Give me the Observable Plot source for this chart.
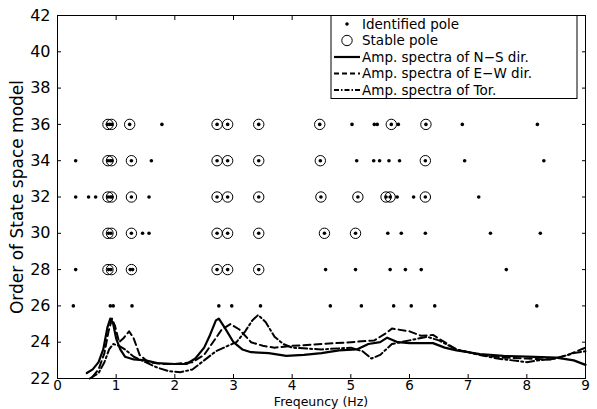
<!DOCTYPE html>
<html><head><meta charset="utf-8">
<script src="https://cdn.jsdelivr.net/npm/d3@7"></script>
<script src="https://cdn.jsdelivr.net/npm/@observablehq/plot@0.6"></script>
<style>
html,body{margin:0;padding:0;background:#fff;}
#chart{position:relative;width:597px;height:409px;}
svg{font-family:"DejaVu Sans",sans-serif;}
</style></head>
<body><div id="chart"></div>
<script>
const xTicks = [0,1,2,3,4,5,6,7,8,9];
const yTicks = [22,24,26,28,30,32,34,36,38,40,42];

// identified poles (frequency, Hz) per model order
const idPoles26 = [0.27,0.90,0.95,1.27,2.75,2.97,3.46,4.65,5.18,5.73,6.03,6.43,8.17];
const idPoles28 = [0.31,0.87,0.91,1.24,1.28,2.72,2.90,3.43,4.57,5.08,5.67,5.93,6.20,7.65];
const idPoles30 = [0.87,0.91,1.26,1.45,1.56,2.72,2.90,3.43,4.55,5.08,5.63,5.86,6.27,7.38,8.23];
const idPoles32 = [0.31,0.53,0.65,0.86,0.90,0.93,1.26,1.56,2.72,2.90,3.43,4.49,5.12,5.60,5.67,5.79,6.07,6.27,7.18];
const idPoles34 = [0.31,0.86,0.90,0.93,1.26,1.60,2.72,2.90,3.43,4.48,5.10,5.39,5.49,5.65,5.83,6.27,6.94,8.29];
const idPoles36 = [0.85,0.89,0.93,1.23,1.78,2.72,2.90,3.43,4.47,5.02,5.40,5.45,5.69,5.81,6.28,6.90,8.18];

// stable poles
const stPoles28 = [0.86,0.92,1.26,2.72,2.90,3.43];
const stPoles30 = [0.86,0.92,1.26,2.72,2.90,3.43,4.55,5.08];
const stPoles32 = [0.86,0.92,1.26,2.72,2.90,3.43,4.49,5.12,5.60,5.67,6.27];
const stPoles34 = [0.86,0.92,1.26,2.72,2.90,3.43,4.48,6.27];
const stPoles36 = [0.86,0.92,1.23,2.72,2.90,3.43,4.47,5.69,6.28];

// amplitude spectra [freq, scaled amplitude]
const nsSpectrum = [[0.5,22.3],[0.6,22.5],[0.7,22.9],[0.78,23.6],[0.85,24.8],[0.9,25.3],[0.95,25.0],[1.0,24.2],[1.07,23.6],[1.15,23.2],[1.3,23.05],[1.5,23.0],[1.7,22.85],[2.0,22.8],[2.2,22.8],[2.35,23.1],[2.5,23.7],[2.6,24.4],[2.7,25.2],[2.75,25.3],[2.85,24.8],[3.0,24.0],[3.15,23.6],[3.3,23.45],[3.6,23.4],[3.9,23.25],[4.2,23.3],[4.5,23.4],[4.8,23.55],[5.1,23.6],[5.3,23.9],[5.5,24.0],[5.62,24.25],[5.8,24.0],[6.0,23.95],[6.4,23.95],[6.6,23.7],[6.8,23.55],[7.2,23.35],[7.6,23.25],[8.0,23.2],[8.5,23.15],[8.8,23.0],[9.0,22.75]];
const ewSpectrum = [[0.6,22.1],[0.7,22.5],[0.8,23.4],[0.87,24.6],[0.93,25.3],[0.98,24.9],[1.05,24.0],[1.12,24.2],[1.22,24.6],[1.3,24.2],[1.4,23.3],[1.55,22.9],[1.8,22.8],[2.0,22.8],[2.3,22.9],[2.5,23.3],[2.65,24.0],[2.8,24.7],[2.95,25.0],[3.1,24.7],[3.3,24.0],[3.5,23.8],[3.7,23.7],[4.0,23.8],[4.5,23.9],[5.0,24.0],[5.4,24.1],[5.6,24.5],[5.7,24.75],[6.0,24.6],[6.2,24.35],[6.4,24.4],[6.6,24.0],[6.8,23.6],[7.2,23.3],[7.6,23.15],[8.0,23.1],[8.4,23.05],[8.7,23.3],[9.0,23.7]];
const torSpectrum = [[0.55,22.0],[0.7,22.3],[0.8,22.9],[0.88,23.6],[0.95,23.9],[1.05,23.8],[1.15,23.6],[1.3,23.2],[1.5,22.9],[1.7,22.6],[1.9,22.4],[2.1,22.35],[2.3,22.5],[2.5,23.0],[2.7,23.5],[2.9,23.8],[3.05,24.0],[3.2,24.6],[3.32,25.2],[3.42,25.5],[3.55,25.1],[3.7,24.3],[3.85,23.9],[4.0,23.7],[4.5,23.6],[5.0,23.7],[5.2,23.5],[5.35,23.1],[5.5,23.3],[5.7,23.9],[6.0,24.1],[6.3,24.3],[6.5,24.1],[6.8,23.6],[7.2,23.3],[7.5,23.1],[8.0,22.9],[8.2,23.0],[8.5,23.1],[8.8,23.4],[9.0,23.5]];

const orders = [26,28,30,32,34,36];
const idLists = [idPoles26,idPoles28,idPoles30,idPoles32,idPoles34,idPoles36];
const stLists = [[],stPoles28,stPoles30,stPoles32,stPoles34,stPoles36];
const identified = orders.flatMap((o,i)=>idLists[i].map(f=>({f,o})));
const stable = orders.flatMap((o,i)=>stLists[i].map(f=>({f,o})));
const toRows = a => a.map(([f,v])=>({f,v}));

const ff = '"DejaVu Sans", sans-serif';
const chart = Plot.plot({
  width: 597, height: 409,
  marginLeft: 57, marginRight: 12, marginTop: 15, marginBottom: 31,
  style: {fontFamily: ff, fontSize: "15px", color: "#000", background: "#fff"},
  x: {domain: [0,9]},
  y: {domain: [22,42]},
  marks: [
    Plot.line(toRows(nsSpectrum), {x:"f", y:"v", stroke:"#000", strokeWidth:2.2}),
    Plot.line(toRows(ewSpectrum), {x:"f", y:"v", stroke:"#000", strokeWidth:2, strokeDasharray:"7,4"}),
    Plot.line(toRows(torSpectrum), {x:"f", y:"v", stroke:"#000", strokeWidth:2, strokeDasharray:"8,3,2,3"}),
    Plot.dot(stable, {x:"f", y:"o", r:5.2, stroke:"#000", strokeWidth:1, fill:"none"}),
    Plot.dot(identified, {x:"f", y:"o", r:1.8, fill:"#000", stroke:"none"}),
    Plot.frame({stroke:"#000", strokeWidth:1}),
    Plot.axisX({ticks: xTicks, tickSize: -4, tickPadding: 6, fontSize: 13.5, label: null}),
    Plot.axisX({anchor:"top", ticks: xTicks, tickSize: -4, tickFormat: ()=>"", label: null}),
    Plot.axisY({ticks: yTicks, tickSize: -4, tickPadding: 11, fontSize: 16, label: null}),
    Plot.axisY({ticks: [], label: "Order of State space model", labelAnchor:"center", labelArrow:"none", labelOffset: 47, fontSize: 17}),
    Plot.axisY({anchor:"right", ticks: yTicks, tickSize: -4, tickFormat: ()=>"", label: null})
  ]
});
document.getElementById("chart").appendChild(chart);

const svg = d3.select(chart);
// x-axis title
svg.append("text").attr("x", 57 + (585 - 57) / 2).attr("y", 406).attr("text-anchor","middle")
  .attr("font-family", ff).attr("font-size", 12.5).attr("fill","#000").text("Freqeuncy (Hz)");

// legend inside the plot
const lg = svg.append("g").attr("font-family",ff).attr("font-size",13.5).attr("text-anchor","start");
const bx = 331, by = 15.5, bw = 246, bh = 83;
lg.append("rect").attr("x",bx).attr("y",by).attr("width",bw).attr("height",bh).attr("fill","#fff").attr("stroke","#000");
const entries = ["Identified pole","Stable pole","Amp. spectra of N\u2212S dir.","Amp. spectra of E\u2212W dir.","Amp. spectra of Tor."];
entries.forEach((t,i)=>{
  const yy = by + 8.5 + i*16.5;
  const sx0 = bx + 3, sx1 = bx + 29;
  if (i===0) lg.append("circle").attr("cx",(sx0+sx1)/2).attr("cy",yy).attr("r",1.8).attr("fill","#000");
  if (i===1) lg.append("circle").attr("cx",(sx0+sx1)/2).attr("cy",yy).attr("r",5.2).attr("fill","none").attr("stroke","#000");
  if (i>=2) lg.append("line").attr("x1",sx0).attr("x2",sx1).attr("y1",yy).attr("y2",yy).attr("stroke","#000")
      .attr("stroke-width",i===2?2.2:1.8).attr("stroke-dasharray", i===3?"5,3":(i===4?"5,2,1.5,2":null));
  lg.append("text").attr("x",bx+31).attr("y",yy).attr("dy","0.35em").text(t);
});
</script></body></html>
